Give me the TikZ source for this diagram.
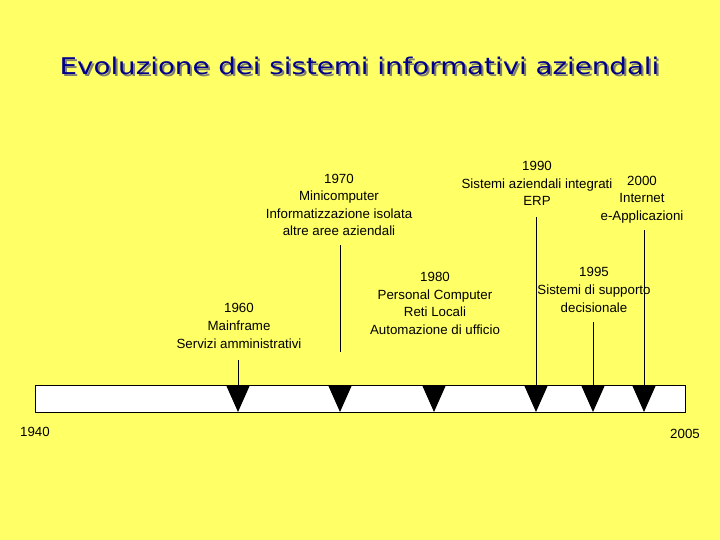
\documentclass[tikz,border=0pt]{standalone}
\usepackage{fontspec}
\setmainfont{Liberation Sans}
\newfontfamily\titlefont{DejaVu Sans}
\definecolor{bgyellow}{RGB}{255,255,102}
\definecolor{titleblue}{RGB}{0,0,140}
\definecolor{shadowgray}{RGB}{128,128,110}
\begin{document}
\begin{tikzpicture}[x=1pt,y=-1pt,
  lbl/.style={align=center,inner sep=0pt,font=\fontsize{13.3}{17.6}\selectfont},
  tick/.style={draw=black,line width=0.8pt},
  marker/.style={fill=black}]
\fill[bgyellow] (0,0) rectangle (720,540);
\useasboundingbox (0,0) rectangle (720,540);
% title with shadow
\node[anchor=base,text=shadowgray,inner sep=0pt,font=\titlefont\fontsize{23}{28}\selectfont] (titleshadow) at (361.5,76.5) {\scalebox{1.204}[1]{Evoluzione dei sistemi informativi aziendali}};
\node[anchor=base,text=titleblue,inner sep=0pt,font=\titlefont\fontsize{23}{28}\selectfont] (title) at (359.5,74.5) {\scalebox{1.204}[1]{Evoluzione dei sistemi informativi aziendali}};
% bar
\node[draw=black,fill=white,line width=1.2pt,minimum width=650pt,minimum height=27pt,inner sep=0pt,anchor=north west] (bar) at (35,385) {};
% triangle tops
\foreach \n/\x in {a/238,b/340,c/434,d/536,e/593,f/644}{
  \coordinate (t\n) at (\x,385);
  \fill[marker] (\x-12,385) -- (\x+12,385) -- (\x,412) -- cycle;
}
% labels
\node[lbl] (l1960) at (239,326) {1960\\Mainframe\\Servizi amministrativi};
\node[lbl] (l1970) at (339,205) {1970\\Minicomputer\\Informatizzazione isolata\\altre aree aziendali};
\node[lbl] (l1980) at (435,303.5) {1980\\Personal Computer\\Reti Locali\\Automazione di ufficio};
\node[lbl] (l1990) at (537,183.5) {1990\\Sistemi aziendali integrati\\ERP};
\node[lbl] (l2000) at (642,199.5) {2000\\Internet\\e-Applicazioni};
\node[lbl] (l1995) at (594,290) {1995\\Sistemi di supporto\\decisionale};
\node[lbl] (y1940) at (35,432) {1940};
\node[lbl] (y2005) at (685,433.5) {2005};
% connectors
\coordinate (s1960) at (238,360);
\coordinate (s1970) at (340,245);
\coordinate (e1970) at (340,352);
\coordinate (s1990) at (536,217);
\coordinate (s1995) at (593,322);
\coordinate (s2000) at (644,230);
\draw[tick] (s1960) -- (ta);
\draw[tick] (s1970) -- (e1970);
\draw[tick] (s1990) -- (td);
\draw[tick] (s1995) -- (te);
\draw[tick] (s2000) -- (tf);
\end{tikzpicture}
\end{document}
